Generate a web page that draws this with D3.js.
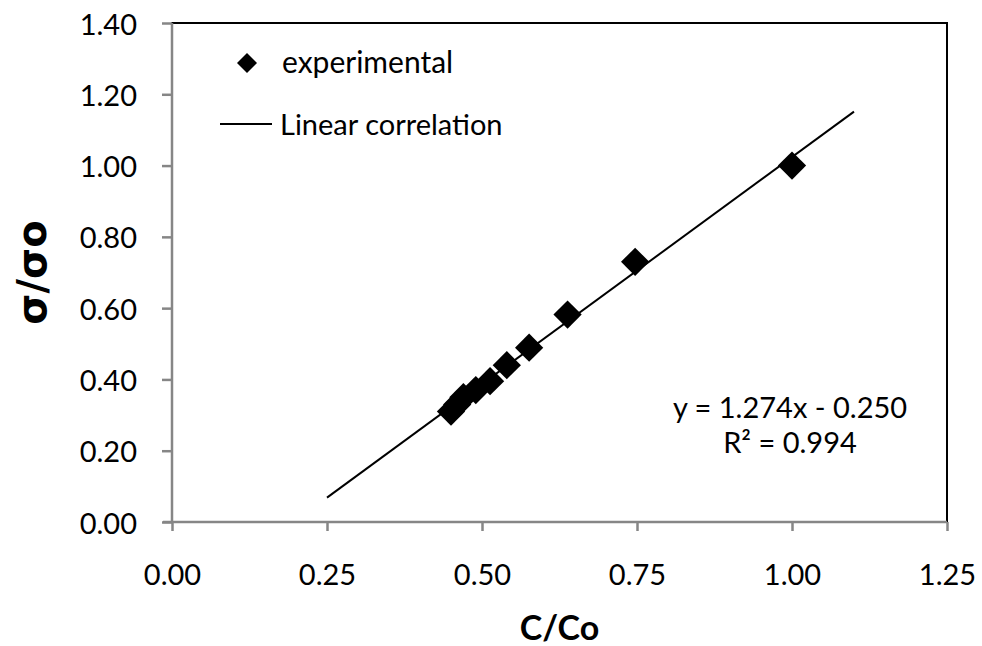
<!DOCTYPE html>
<html>
<head>
<meta charset="utf-8">
<script src="https://cdn.jsdelivr.net/npm/d3@7"></script>
<style>
  body { margin: 0; background: #fff; }
  text { font-family: Lato, "Open Sans", sans-serif; fill: #000; }
</style>
</head>
<body>
<div id="chart"></div>
<script>
// experimental points (C/Co vs sigma/sigma0)
var xVals = [0.450, 0.460, 0.470, 0.490, 0.513, 0.540, 0.576, 0.638, 0.747, 1.000];
var yVals = [0.310, 0.330, 0.350, 0.370, 0.395, 0.440, 0.489, 0.582, 0.730, 1.000];
// linear correlation y = 1.274x - 0.250, drawn from x=0.25 to x=1.10
var fitSlope = 1.274;
var fitIntercept = -0.250;
var fitRange = [0.25, 1.10];
var xTicks = [0, 0.25, 0.5, 0.75, 1.0, 1.25];
var yTicks = [0, 0.2, 0.4, 0.6, 0.8, 1.0, 1.2, 1.4];
var legendLabels = ["experimental", "Linear correlation"];
var eqLines = ["y = 1.274x  - 0.250", "R\u00b2 = 0.994"];

var width = 982, height = 646;
var margin = {top: 23, right: 35, bottom: 124, left: 172};

var svg = d3.select("#chart")
  .append("svg")
  .attr("width", width)
  .attr("height", height);

var x = d3.scaleLinear()
  .domain([0, 1.25])
  .range([margin.left, width - margin.right]);

var y = d3.scaleLinear()
  .domain([0, 1.4])
  .range([height - margin.bottom, margin.top]);

// plot area border (top & right show black)
svg.append("rect")
  .attr("x", x(0))
  .attr("y", y(1.4))
  .attr("width", x(1.25) - x(0))
  .attr("height", y(0) - y(1.4))
  .attr("fill", "none")
  .attr("stroke", "#000")
  .attr("stroke-width", 2);

// X axis
var xAxis = svg.append("g")
  .attr("transform", "translate(0," + y(0) + ")")
  .call(d3.axisBottom(x).tickValues(xTicks).tickSize(9)
    .tickFormat(d3.format(".2f")));
xAxis.select(".domain").attr("stroke", "#868686").attr("stroke-width", 2.5)
  .attr("d", "M" + (x(0) - 9) + ",0H" + x(1.25));
xAxis.selectAll(".tick line").attr("stroke", "#868686").attr("stroke-width", 2.5);
xAxis.selectAll("text").style("font-size", "29px").attr("y", 63).attr("dy", 0);

// Y axis
var yAxis = svg.append("g")
  .attr("transform", "translate(" + x(0) + ",0)")
  .call(d3.axisLeft(y).tickValues(yTicks).tickSize(10).tickPadding(25)
    .tickFormat(d3.format(".2f")));
yAxis.select(".domain").attr("stroke", "#868686").attr("stroke-width", 2.5)
  .attr("d", "M0," + y(0) + "V" + y(1.4));
yAxis.selectAll(".tick line").attr("stroke", "#868686").attr("stroke-width", 2.5);
yAxis.selectAll("text").style("font-size", "29px").attr("dy", "0.38em");

// axis titles
svg.append("text")
  .attr("x", (x(0) + x(1.25)) / 2)
  .attr("y", 640)
  .attr("text-anchor", "middle")
  .style("font-size", "34px")
  .style("font-weight", "bold")
  .text("C/Co");

svg.append("text")
  .attr("transform", "translate(46," + ((y(0) + y(1.4)) / 2) + ") rotate(-90)")
  .attr("text-anchor", "middle")
  .style("font-family", "'DejaVu Sans', sans-serif")
  .style("font-size", "40px")
  .style("font-weight", "bold")
  .text("\u03c3/\u03c3o");

// trend line
svg.append("line")
  .attr("x1", x(fitRange[0]))
  .attr("y1", y(fitSlope * fitRange[0] + fitIntercept))
  .attr("x2", x(fitRange[1]))
  .attr("y2", y(fitSlope * fitRange[1] + fitIntercept))
  .attr("stroke", "#000")
  .attr("stroke-width", 2);

// points as diamonds
var diamond = d3.symbol().type(d3.symbolSquare).size(400);
svg.selectAll(".pt")
  .data(xVals)
  .enter()
  .append("path")
  .attr("class", "pt")
  .attr("d", diamond)
  .attr("transform", function (d, i) {
    return "translate(" + x(d) + "," + y(yVals[i]) + ") rotate(45)";
  })
  .attr("fill", "#000");

// legend
svg.append("path")
  .attr("d", d3.symbol().type(d3.symbolSquare).size(200))
  .attr("transform", "translate(247,63) rotate(45)")
  .attr("fill", "#000");
svg.append("text")
  .attr("x", 282)
  .attr("y", 73)
  .style("font-size", "30px")
  .text(legendLabels[0]);
svg.append("line")
  .attr("x1", 220).attr("x2", 272)
  .attr("y1", 124).attr("y2", 124)
  .attr("stroke", "#000").attr("stroke-width", 2);
svg.append("text")
  .attr("x", 280)
  .attr("y", 135)
  .style("font-size", "29px")
  .text(legendLabels[1]);

// equation
svg.selectAll(".eq")
  .data(eqLines)
  .enter()
  .append("text")
  .attr("class", "eq")
  .attr("x", 790)
  .attr("y", function (d, i) { return 418 + i * 35; })
  .attr("text-anchor", "middle")
  .style("font-size", "29px")
  .text(function (d) { return d; });
</script>
</body>
</html>
